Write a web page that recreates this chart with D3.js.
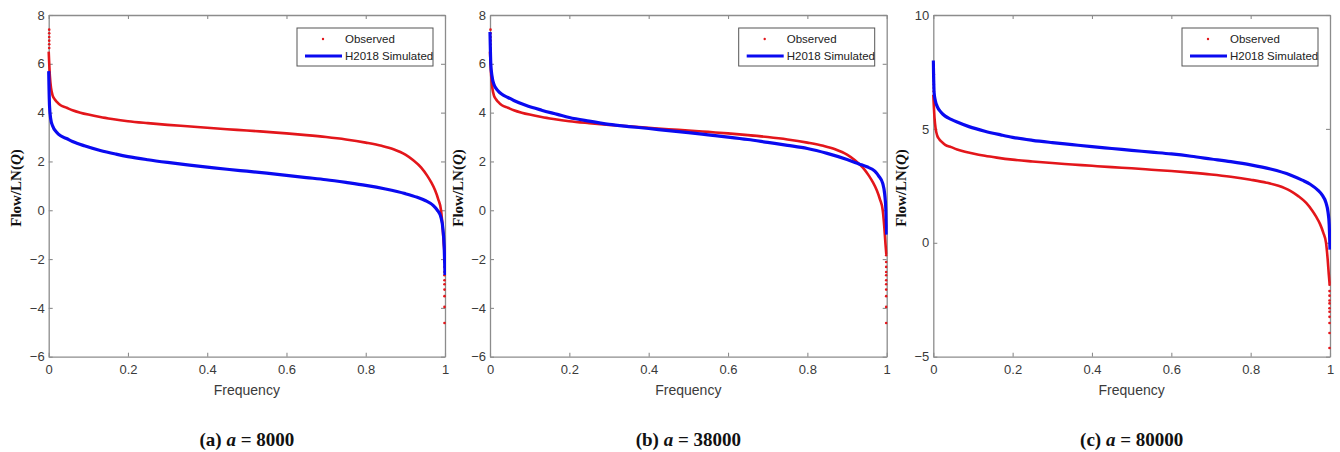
<!DOCTYPE html>
<html>
<head>
<meta charset="utf-8">
<title>Flow duration curves</title>
<script src="https://cdn.jsdelivr.net/npm/d3@7"></script>
<style>
	body { margin: 0; background: #fff; }
	svg { display: block; }
	.tick-label { font-family: "Liberation Sans", Arial, sans-serif; font-size: 13px; fill: #3a3a3a; }
	.legend-text { font-family: "Liberation Sans", Arial, sans-serif; font-size: 11.5px; fill: #222; }
	.ylab { font-family: "Liberation Serif", "Times New Roman", serif; font-size: 15px; font-weight: bold; fill: #111; }
	.caption { font-family: "Liberation Serif", "Times New Roman", serif; font-size: 19px; font-weight: bold; fill: #111; }
</style>
</head>
<body>
<div id="chart"></div>
<script>

// observed flow (same record in all three panels), dense markers drawn as a curve
var obsFreq  = [0, 0.003, 0.006, 0.01, 0.015, 0.02, 0.03, 0.045, 0.06, 0.08, 0.1, 0.13, 0.16, 0.2, 0.25, 0.3, 0.35, 0.4, 0.45, 0.5, 0.55, 0.6, 0.65, 0.7, 0.75, 0.8, 0.84, 0.87, 0.9, 0.92, 0.94, 0.955, 0.965, 0.975, 0.983, 0.99, 0.994, 0.997, 0.999];
var obsValue = [6.5, 5.5, 5.0, 4.7, 4.55, 4.45, 4.3, 4.2, 4.1, 4.0, 3.92, 3.82, 3.74, 3.65, 3.57, 3.5, 3.44, 3.38, 3.32, 3.27, 3.21, 3.15, 3.08, 3.0, 2.9, 2.77, 2.64, 2.5, 2.28, 2.05, 1.75, 1.42, 1.15, 0.82, 0.45, 0.0, -0.7, -1.4, -1.8];
// sparse observed markers at both ends
var obsTopFreq  = [0, 0, 0, 0, 0, 0];
var obsTopValue = [7.4, 7.25, 7.1, 6.95, 6.8, 6.65];
var obsTailFreq  = [1, 1, 1, 1, 1, 1, 1, 1, 1, 1, 1];
var obsTailValue = [-1.84, -2.12, -2.32, -2.53, -2.66, -2.87, -3.03, -3.25, -3.52, -3.96, -4.62];

// H2018 simulated
var simFreq = [0, 0.002, 0.005, 0.01, 0.02, 0.03, 0.045, 0.06, 0.09, 0.13, 0.17, 0.2, 0.25, 0.3, 0.35, 0.4, 0.45, 0.5, 0.55, 0.6, 0.65, 0.7, 0.75, 0.8, 0.85, 0.9, 0.93, 0.95, 0.97, 0.98, 0.99, 0.995, 0.998, 1];
var simA = [5.7, 4.3, 3.75, 3.45, 3.2, 3.05, 2.94, 2.82, 2.64, 2.45, 2.3, 2.2, 2.07, 1.96, 1.86, 1.77, 1.68, 1.6, 1.52, 1.43, 1.34, 1.25, 1.14, 1.02, 0.87, 0.68, 0.53, 0.4, 0.2, 0.02, -0.3, -0.8, -1.5, -2.65];
var simB = [7.3, 6.0, 5.5, 5.15, 4.9, 4.75, 4.62, 4.5, 4.3, 4.1, 3.93, 3.8, 3.65, 3.52, 3.43, 3.35, 3.26, 3.18, 3.09, 3.0, 2.9, 2.78, 2.66, 2.53, 2.33, 2.08, 1.9, 1.78, 1.6, 1.4, 1.1, 0.65, 0.0, -1.0];
var simC = [8.0, 6.6, 6.25, 5.98, 5.72, 5.56, 5.42, 5.3, 5.1, 4.9, 4.74, 4.63, 4.5, 4.4, 4.31, 4.22, 4.14, 4.06, 3.98, 3.9, 3.8, 3.68, 3.56, 3.42, 3.24, 2.98, 2.75, 2.57, 2.3, 2.1, 1.75, 1.35, 0.8, -0.3];

var xTicks = [0, 0.2, 0.4, 0.6, 0.8, 1];
var xTickLabels = ["0", "0.2", "0.4", "0.6", "0.8", "1"];
var yTicksAB = [-6, -4, -2, 0, 2, 4, 6, 8];
var yTicksC = [-5, 0, 5, 10];
var captionLetters = ["(a)", "(b)", "(c)"];
var captionValues = ["8000", "38000", "80000"];
var legendLabels = ["Observed", "H2018 Simulated"];

var RED = "#e3161b", BLUE = "#0a0af0", FRAME = "#8c8c8c";

var svg = d3.select("#chart").append("svg")
	.attr("width", 1340)
	.attr("height", 452);

var panels = [
	{ left: 48.7, right: 445, sim: simA, yDomain: [-6, 8], yTicks: yTicksAB },
	{ left: 490, right: 886.7, sim: simB, yDomain: [-6, 8], yTicks: yTicksAB },
	{ left: 933.3, right: 1330, sim: simC, yDomain: [-5, 10], yTicks: yTicksC }
];

var plotTop = 15, plotBottom = 356.7;

function toPoints(fx, fy) {
	return fx.map(function (f, i) { return [f, fy[i]]; });
}

panels.forEach(function (p, idx) {
	var x = d3.scaleLinear().domain([0, 1]).range([p.left, p.right]);
	var y = d3.scaleLinear().domain(p.yDomain).range([plotBottom, plotTop]);
	var g = svg.append("g");

	// clip so curves stay inside the box
	var clipId = "clip" + idx;
	svg.append("clipPath").attr("id", clipId)
		.append("rect")
		.attr("x", p.left - 2).attr("y", plotTop - 2)
		.attr("width", p.right - p.left + 3).attr("height", plotBottom - plotTop + 4);

	// inward ticks on all four sides
	var xb = g.append("g").attr("transform", "translate(0," + plotBottom + ")")
		.call(d3.axisBottom(x).tickValues(xTicks).tickSizeInner(-4).tickSizeOuter(0).tickFormat(function (d, i) { return xTickLabels[i]; }));
	var xt = g.append("g").attr("transform", "translate(0," + plotTop + ")")
		.call(d3.axisTop(x).tickValues(xTicks).tickSizeInner(-4).tickSizeOuter(0).tickFormat(""));
	var yl = g.append("g").attr("transform", "translate(" + p.left + ",0)")
		.call(d3.axisLeft(y).tickValues(p.yTicks).tickSizeInner(-4).tickSizeOuter(0));
	var yr = g.append("g").attr("transform", "translate(" + p.right + ",0)")
		.call(d3.axisRight(y).tickValues(p.yTicks).tickSizeInner(-4).tickSizeOuter(0).tickFormat(""));

	[xb, xt, yl, yr].forEach(function (a) {
		a.attr("font-size", null).attr("font-family", null);
		a.select(".domain").attr("stroke", FRAME).attr("stroke-width", 1.3);
		a.selectAll(".tick line").attr("stroke", FRAME).attr("stroke-width", 1.1);
		a.selectAll(".tick text").attr("class", "tick-label").attr("fill", null);
	});
	xb.selectAll(".tick text").attr("dy", "0.71em").attr("y", 8);
	yl.selectAll(".tick text").attr("x", -4);

	var line = d3.line()
		.x(function (d) { return x(d[0]); })
		.y(function (d) { return y(d[1]); })
		.curve(d3.curveMonotoneX);

	var plot = g.append("g").attr("clip-path", "url(#" + clipId + ")");

	// observed
	plot.append("path")
		.datum(toPoints(obsFreq, obsValue))
		.attr("d", line)
		.attr("fill", "none").attr("stroke", RED).attr("stroke-width", 2.6);
	plot.selectAll(".obsdot")
		.data(toPoints(obsTopFreq, obsTopValue).concat(toPoints(obsTailFreq, obsTailValue)))
		.enter().append("circle")
		.attr("cx", function (d) { return x(d[0]) + (d[0] === 0 ? 0.5 : -0.5); })
		.attr("cy", function (d) { return y(d[1]); })
		.attr("r", 1.3)
		.attr("fill", RED);

	// simulated
	plot.append("path")
		.datum(toPoints(simFreq, p.sim))
		.attr("d", line)
		.attr("fill", "none").attr("stroke", BLUE).attr("stroke-width", 3.2);

	// legend
	var lx = p.right - 148, ly = 28;
	var leg = g.append("g").attr("transform", "translate(" + lx + "," + ly + ")");
	leg.append("rect").attr("width", 136).attr("height", 38)
		.attr("fill", "#fff").attr("stroke", "#555").attr("stroke-width", 1);
	leg.append("circle").attr("cx", 26).attr("cy", 11).attr("r", 1.2).attr("fill", RED);
	leg.append("line").attr("x1", 8).attr("x2", 45).attr("y1", 28).attr("y2", 28)
		.attr("stroke", BLUE).attr("stroke-width", 3.2);
	leg.append("text").attr("class", "legend-text").attr("x", 48).attr("y", 15).text(legendLabels[0]);
	leg.append("text").attr("class", "legend-text").attr("x", 48).attr("y", 32).text(legendLabels[1]);

	// axis titles
	g.append("text").attr("class", "tick-label")
		.attr("x", (p.left + p.right) / 2).attr("y", 395)
		.attr("text-anchor", "middle").style("font-size", "14px")
		.text("Frequency");

	var yt = g.append("text").attr("class", "ylab")
		.attr("transform", "translate(" + (p.left - 27.5) + ",188) rotate(-90)")
		.attr("text-anchor", "middle");
	yt.append("tspan").text("Flow/LN(");
	yt.append("tspan").attr("font-style", "italic").text("Q");
	yt.append("tspan").text(")");

	// caption
	var cap = g.append("text").attr("class", "caption")
		.attr("x", (p.left + p.right) / 2).attr("y", 446)
		.attr("text-anchor", "middle");
	cap.append("tspan").text(captionLetters[idx] + " ");
	cap.append("tspan").attr("font-style", "italic").text("a");
	cap.append("tspan").text(" = " + captionValues[idx]);
});

</script>
</body>
</html>
